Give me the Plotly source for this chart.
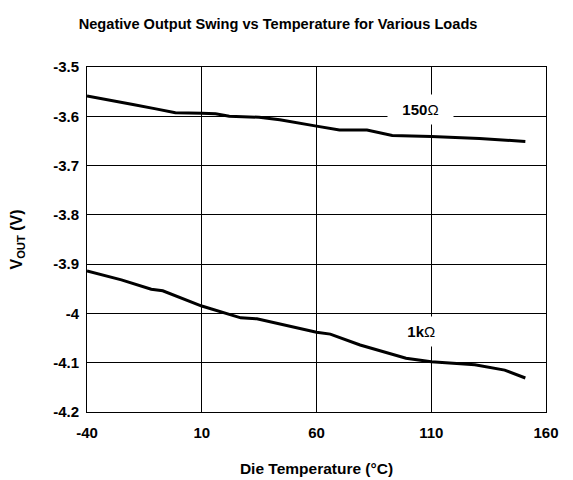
import plotly.graph_objects as go

# Data
temp_150 = [-40, -30, -20, -10, -1.5, 10, 16, 22, 35, 44, 53, 60, 70, 82, 93, 110, 131, 151]
vout_150 = [-3.559, -3.567, -3.576, -3.585, -3.593, -3.594, -3.595, -3.600, -3.602, -3.607, -3.615, -3.620, -3.628, -3.628, -3.639, -3.641, -3.645, -3.651]

temp_1k = [-40, -25, -12, -7, 10, 27, 34, 53, 60, 66, 79, 99, 110, 129, 142, 151]
vout_1k = [-3.914, -3.932, -3.951, -3.954, -3.985, -4.009, -4.011, -4.031, -4.038, -4.042, -4.064, -4.091, -4.098, -4.104, -4.115, -4.131]

x_ticks = [-40, 10, 60, 110, 160]
x_ticktext = ["-40", "10", "60", "110", "160"]
y_ticks = [-3.5, -3.6, -3.7, -3.8, -3.9, -4.0, -4.1, -4.2]
y_ticktext = ["-3.5", "-3.6", "-3.7", "-3.8", "-3.9", "-4", "-4.1", "-4.2"]

FONT = "Liberation Sans, Arial, Helvetica, sans-serif"

fig = go.Figure()
fig.add_trace(go.Scatter(x=temp_150, y=vout_150, mode="lines",
                         line=dict(color="black", width=3), name="150Ω", showlegend=False))
fig.add_trace(go.Scatter(x=temp_1k, y=vout_1k, mode="lines",
                         line=dict(color="black", width=3), name="1kΩ", showlegend=False))

fig.add_annotation(x=105.3, y=-3.586, text="  <b>150</b>Ω  ", showarrow=False,
                   bgcolor="white", borderpad=6, font=dict(size=15, color="black", family=FONT))
fig.add_annotation(x=105.7, y=-4.0375, text="  <b>1k</b>Ω  ", showarrow=False,
                   bgcolor="white", borderpad=6, font=dict(size=15, color="black", family=FONT))

# the page body adds an 8px margin, so the figure is sized to fit inside it
fig.update_layout(
    width=565, height=472,
    margin=dict(l=78.5, r=26.7, t=59, b=67.7, autoexpand=False),
    paper_bgcolor="white", plot_bgcolor="white",
    font=dict(family=FONT, color="black"),
    title=dict(text="<b>Negative Output Swing vs Temperature for Various Loads</b>",
               x=0.478, xanchor="center", xref="container",
               y=0.966, yanchor="middle", yref="container", automargin=False,
               font=dict(size=14.6, color="black", family=FONT)),
)
fig.update_xaxes(range=[-40, 160], tickvals=x_ticks, ticktext=x_ticktext,
                 showgrid=True, gridcolor="black", gridwidth=1,
                 showline=True, linecolor="black", linewidth=1, mirror=True,
                 zeroline=False, ticks="", ticklabelstandoff=7, automargin=False,
                 tickfont=dict(size=15, family=FONT, weight="bold"),
                 title=dict(text="<b>Die Temperature (°C)</b>", standoff=23,
                            font=dict(size=15.5, family=FONT)))
fig.update_yaxes(range=[-4.2, -3.5], tickvals=y_ticks, ticktext=y_ticktext,
                 showgrid=True, gridcolor="black", gridwidth=1,
                 showline=True, linecolor="black", linewidth=1, mirror=True,
                 zeroline=False, ticks="", ticklabelstandoff=4, automargin=False,
                 tickfont=dict(size=15, family=FONT, weight="bold"),
                 title=dict(text="<b>V<sub>OUT</sub> (V)</b>", standoff=38,
                            font=dict(size=16, family=FONT)))

fig.write_html("out.html")
